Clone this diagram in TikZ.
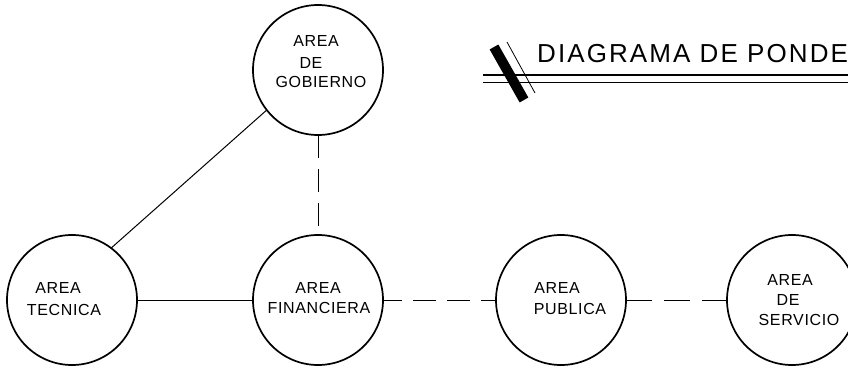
\documentclass[tikz,border=0pt]{standalone}
\usepackage{fontspec}
\setmainfont{Liberation Sans}
\newfontfamily\lblfont[LetterSpace=4]{Liberation Sans}
\newfontfamily\ttlfont[LetterSpace=8]{Liberation Sans}
\begin{document}
\begin{tikzpicture}[x=1pt,y=-1pt,
  area/.style={circle, draw, line width=1.7pt, minimum size=130pt, inner sep=0pt, outer sep=0pt},
  lbl/.style={anchor=base, inner sep=0pt, font=\lblfont\fontsize{16}{19}\selectfont},
  link/.style={line width=1pt},
  dlink/.style={line width=1pt, dash pattern=on 23pt off 11pt}]
\clip (0,0) rectangle (848,369);
% circles
\node[area] (gob) at (318,70) {};
\node[area] (tec) at (72,300) {};
\node[area] (fin) at (318,300) {};
\node[area] (pub) at (561,300) {};
\node[area] (ser) at (792,300) {};
% labels
\node[lbl] (gobA) at (316,47) {AREA};
\node[lbl] (gobB) at (311,68) {DE};
\node[lbl] (gobC) at (321,88) {GOBIERNO};
\node[lbl] (tecA) at (58,293) {AREA};
\node[lbl] (tecB) at (64,315) {TECNICA};
\node[lbl] (finA) at (318,293) {AREA};
\node[lbl] (finB) at (319,313) {FINANCIERA};
\node[lbl] (pubA) at (557,293) {AREA};
\node[lbl] (pubB) at (570,314) {PUBLICA};
\node[lbl] (serA) at (790,285) {AREA};
\node[lbl] (serB) at (788,305) {DE};
\node[lbl] (serC) at (799,325) {SERVICIO};
% connectors
\draw[link] (tec.53) -- (gob.218);
\draw[link] (tec.east) -- (fin.west);
\draw[dlink] (gob.south) -- (fin.north);
\draw[dlink, dash phase=4pt] (fin.east) -- (pub.west);
\draw[dlink, dash pattern=on 26pt off 12pt] (pub.east) -- (ser.west);
% title
\node[anchor=base west, inner sep=0pt, font=\ttlfont\fontsize{26}{30}\selectfont] (ttl) at (537,63) {DIAGRAMA DE PONDE};
\coordinate (r1a) at (483,75);
\coordinate (r1b) at (860,75);
\coordinate (r2a) at (483,82);
\coordinate (r2b) at (860,82);
\draw[line width=2pt] (r1a) -- (r1b);
\draw[line width=1pt] (r2a) -- (r2b);
\coordinate (s1) at (494,47);
\coordinate (s2) at (524,100);
\coordinate (t1) at (507,42);
\coordinate (t2) at (535,93);
\draw[line width=10pt] (s1) -- (s2);
\draw[line width=0.8pt] (t1) -- (t2);
\end{tikzpicture}
\end{document}
